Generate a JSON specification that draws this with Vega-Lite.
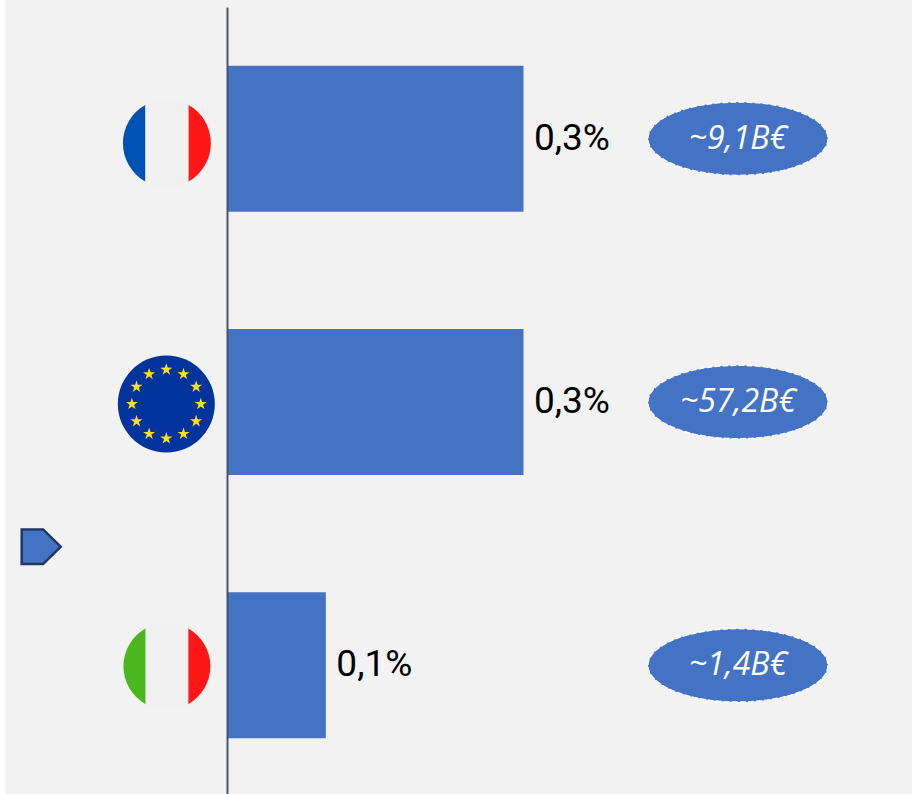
{
"$schema":"https://vega.github.io/schema/vega-lite/v6.json",
"width":912,"height":794,"padding":0,"autosize":{"type":"none"},
"background":"#FFFFFF",
"config":{"view":{"stroke":null},"style":{"cell":{"stroke":null}}},
"datasets":{"rows":[
{"pays":"France","part":0.3,"label":"0,3%","montant":"~9,1B€","flagX":-0.0608,"bubbleX":0.5170},
{"pays":"UE","part":0.3,"label":"0,3%","montant":"~57,2B€","flagX":-0.0614,"bubbleX":0.5170},
{"pays":"Italie","part":0.1,"label":"0,1%","montant":"~1,4B€","flagX":-0.0608,"bubbleX":0.5170}
]},
"data":{"name":"rows"},
"encoding":{
"y":{"field":"pays","type":"nominal","scale":{"type":"band","domain":["France","UE","Italie"],"range":[7,797],"paddingInner":0.4455,"paddingOuter":0.2228},"axis":{"title":null,"labels":false,"ticks":false,"grid":false,"domain":true,"domainColor":"#44546A","domainWidth":2,"offset":-227,"zindex":1}},
"x":{"field":"part","type":"quantitative","scale":{"domain":[-0.22969,0.69311],"range":[0,912],"nice":false,"zero":false},"axis":null}
},
"layer":[
{"data":{"values":[{"from":-0.2246,"to":0.6931}]},"mark":{"type":"rect","fill":"#F2F2F2"},"encoding":{"y":null,"x":{"field":"from","type":"quantitative"},"x2":{"field":"to"}}},
{"mark":{"type":"bar","fill":"#4472C4"},"encoding":{"x":{"field":"part","type":"quantitative"},"x2":{"datum":0}}},
{"mark":{"type":"text","align":"left","baseline":"middle","dx":10.5,"dy":0,"font":"Roboto","fontSize":37,"fill":"#000000"},"encoding":{"text":{"field":"label"}}},
{"mark":{"type":"point","filled":true,"opacity":1,"fill":"#4472C4","stroke":"#FFFFFF","strokeWidth":1.25,"strokeDash":[6,2],"size":32400,"shape":"M1 0A1 0.407 0 1 1 -1 0A1 0.407 0 1 1 1 0Z"},"encoding":{"x":{"field":"bubbleX","type":"quantitative"}}},
{"mark":{"type":"text","align":"center","baseline":"middle","font":"Open Sans","fontStyle":"italic","fontSize":32,"fill":"#FFFFFF"},"encoding":{"x":{"field":"bubbleX","type":"quantitative"},"text":{"field":"montant"}}},
{"transform":[{"filter":"datum.pays==='France'"}],"mark":{"type":"point","filled":true,"opacity":1,"fill":"#F0F0F0","strokeWidth":0,"size":7744,"yOffset":4.5,"shape":"M1 0A1 1 0 1 1 -1 0A1 1 0 1 1 1 0Z"},"encoding":{"x":{"field":"flagX","type":"quantitative"}}},
{"transform":[{"filter":"datum.pays==='France'"}],"mark":{"type":"point","filled":true,"opacity":1,"fill":"#0052B4","strokeWidth":0,"size":7744,"yOffset":4.5,"shape":"M-0.494 -0.869A1 1 0 0 0 -0.494 0.869Z"},"encoding":{"x":{"field":"flagX","type":"quantitative"}}},
{"transform":[{"filter":"datum.pays==='France'"}],"mark":{"type":"point","filled":true,"opacity":1,"fill":"#FF1616","strokeWidth":0,"size":7744,"yOffset":4.5,"shape":"M0.494 -0.869A1 1 0 0 1 0.494 0.869Z"},"encoding":{"x":{"field":"flagX","type":"quantitative"}}},
{"transform":[{"filter":"datum.pays==='Italie'"}],"mark":{"type":"point","filled":true,"opacity":1,"fill":"#F0F0F0","strokeWidth":0,"size":7569,"yOffset":1,"shape":"M1 0A1 1 0 1 1 -1 0A1 1 0 1 1 1 0Z"},"encoding":{"x":{"field":"flagX","type":"quantitative"}}},
{"transform":[{"filter":"datum.pays==='Italie'"}],"mark":{"type":"point","filled":true,"opacity":1,"fill":"#4BB71E","strokeWidth":0,"size":7569,"yOffset":1,"shape":"M-0.494 -0.869A1 1 0 0 0 -0.494 0.869Z"},"encoding":{"x":{"field":"flagX","type":"quantitative"}}},
{"transform":[{"filter":"datum.pays==='Italie'"}],"mark":{"type":"point","filled":true,"opacity":1,"fill":"#FF1616","strokeWidth":0,"size":7569,"yOffset":1,"shape":"M0.494 -0.869A1 1 0 0 1 0.494 0.869Z"},"encoding":{"x":{"field":"flagX","type":"quantitative"}}},
{"transform":[{"filter":"datum.pays==='UE'"}],"mark":{"type":"point","filled":true,"opacity":1,"fill":"#03339C","strokeWidth":0,"size":9409,"yOffset":2,"shape":"M1 0A1 1 0 1 1 -1 0A1 1 0 1 1 1 0Z"},"encoding":{"x":{"field":"flagX","type":"quantitative"}}},
{"transform":[{"filter":"datum.pays==='UE'"}],"mark":{"type":"point","filled":true,"opacity":1,"fill":"#FFDD1F","strokeWidth":0,"size":9409,"yOffset":2,"shape":"M0 -0.841l0.0294 0.0908 0.0956 0.0005 -0.0775 0.0555 0.03 0.0908 -0.0775 -0.0563 -0.0775 0.0563 0.03 -0.0908 -0.0775 -0.0555 0.0956 -0.0005ZM0.355 -0.746l0.0294 0.0908 0.0956 0.0005 -0.0775 0.0555 0.03 0.0908 -0.0775 -0.0563 -0.0775 0.0563 0.03 -0.0908 -0.0775 -0.0555 0.0956 -0.0005ZM0.615 -0.486l0.0294 0.0908 0.0956 0.0005 -0.0775 0.0555 0.03 0.0908 -0.0775 -0.0563 -0.0775 0.0563 0.03 -0.0908 -0.0775 -0.0555 0.0956 -0.0005ZM0.71 -0.131l0.0294 0.0908 0.0956 0.0005 -0.0775 0.0555 0.03 0.0908 -0.0775 -0.0563 -0.0775 0.0563 0.03 -0.0908 -0.0775 -0.0555 0.0956 -0.0005ZM0.615 0.224l0.0294 0.0908 0.0956 0.0005 -0.0775 0.0555 0.03 0.0908 -0.0775 -0.0563 -0.0775 0.0563 0.03 -0.0908 -0.0775 -0.0555 0.0956 -0.0005ZM0.355 0.484l0.0294 0.0908 0.0956 0.0005 -0.0775 0.0555 0.03 0.0908 -0.0775 -0.0563 -0.0775 0.0563 0.03 -0.0908 -0.0775 -0.0555 0.0956 -0.0005ZM0 0.579l0.0294 0.0908 0.0956 0.0005 -0.0775 0.0555 0.03 0.0908 -0.0775 -0.0563 -0.0775 0.0563 0.03 -0.0908 -0.0775 -0.0555 0.0956 -0.0005ZM-0.355 0.484l0.0294 0.0908 0.0956 0.0005 -0.0775 0.0555 0.03 0.0908 -0.0775 -0.0563 -0.0775 0.0563 0.03 -0.0908 -0.0775 -0.0555 0.0956 -0.0005ZM-0.615 0.224l0.0294 0.0908 0.0956 0.0005 -0.0775 0.0555 0.03 0.0908 -0.0775 -0.0563 -0.0775 0.0563 0.03 -0.0908 -0.0775 -0.0555 0.0956 -0.0005ZM-0.71 -0.131l0.0294 0.0908 0.0956 0.0005 -0.0775 0.0555 0.03 0.0908 -0.0775 -0.0563 -0.0775 0.0563 0.03 -0.0908 -0.0775 -0.0555 0.0956 -0.0005ZM-0.615 -0.486l0.0294 0.0908 0.0956 0.0005 -0.0775 0.0555 0.03 0.0908 -0.0775 -0.0563 -0.0775 0.0563 0.03 -0.0908 -0.0775 -0.0555 0.0956 -0.0005ZM-0.355 -0.746l0.0294 0.0908 0.0956 0.0005 -0.0775 0.0555 0.03 0.0908 -0.0775 -0.0563 -0.0775 0.0563 0.03 -0.0908 -0.0775 -0.0555 0.0956 -0.0005Z"},"encoding":{"x":{"field":"flagX","type":"quantitative"}}},
{"transform":[{"filter":"datum.pays==='Italie'"}],"mark":{"type":"point","filled":true,"opacity":1,"fill":"#4472C4","stroke":"#1F3864","strokeWidth":2.5,"size":1521,"yOffset":-118.6,"shape":"M-1 -0.887L0.1 -0.887 1 0 0.1 0.887 -1 0.887Z"},"encoding":{"x":{"datum":-0.188}}}
]
}
